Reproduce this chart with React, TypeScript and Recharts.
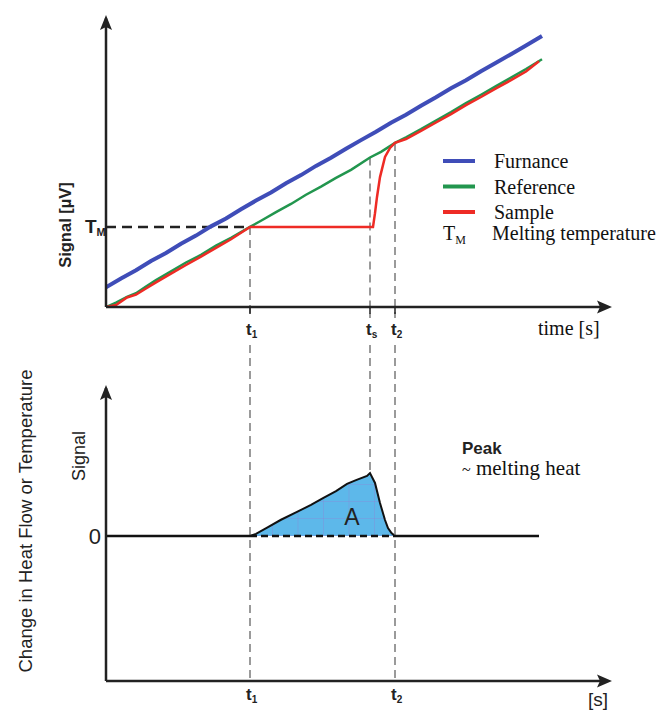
import React from 'react';
import { ComposedChart, Line, Area, XAxis, YAxis, ReferenceLine, ReferenceDot, Legend } from 'recharts';

// ---------- data (time units / signal units) ----------
const furnaceTime = [0, 3, 6, 9, 12, 15, 18, 21, 24, 27, 30, 33, 36, 39, 42, 45, 48, 51, 54, 57, 60, 63, 66, 69, 72, 75, 78, 81, 84, 87.2];
const furnaceSignal = [7.0, 10.2, 13.1, 16.4, 19.3, 22.6, 25.5, 28.8, 31.6, 34.9, 38.0, 40.9, 44.2, 47.1, 50.4, 53.3, 56.5, 59.6, 62.6, 65.8, 68.7, 71.9, 74.9, 78.1, 81.0, 84.2, 87.2, 90.3, 93.4, 96.8];

const referenceTime = [0, 2, 4.2, 6, 8, 10, 13, 16, 19, 22, 25, 28.8, 31, 34, 37, 40, 43, 46, 49, 52.8, 55, 57.8, 60, 63, 66, 69, 72, 75, 78, 81, 84, 87.2];
const referenceSignal = [0, 1.6, 3.6, 4.9, 7.3, 9.6, 12.7, 15.9, 18.6, 21.9, 24.7, 28.6, 30.8, 33.9, 36.8, 40.1, 43.0, 46.1, 49.0, 53.4, 55.4, 58.6, 60.6, 63.5, 66.6, 69.6, 72.8, 75.8, 78.9, 81.9, 85.0, 88.5];

const sampleTime = [0, 2, 4.2, 6, 8, 10, 13, 16, 19, 22, 25, 28.8, 40, 53.4, 53.8, 54.2, 54.8, 55.8, 56.8, 57.8, 60, 63, 66, 69, 72, 75, 78, 81, 84, 86.6];
const sampleSignal = [0, 0.7, 3.4, 4.4, 6.6, 8.8, 11.9, 15.0, 18.0, 21.1, 24.2, 28.6, 28.6, 28.6, 33.5, 39.3, 46.4, 53.6, 56.8, 58.6, 60.0, 62.9, 65.9, 68.9, 72.1, 75.0, 78.1, 81.0, 84.1, 87.8];

const peakTime = [28.8, 30, 32.4, 35, 38.2, 41, 43.4, 46, 48.2, 50, 52.2, 52.8, 53.8, 54.8, 55.8, 56.4, 57.1, 57.8];
const peakSignal = [0, 1.5, 6.2, 11.2, 16.6, 21.5, 26.2, 31.0, 35.9, 38.5, 41.4, 43.4, 36.6, 22.8, 11.0, 5.5, 2.0, 0];

const eventTimes = [28.8, 52.8, 57.8];
const eventSubscripts = ['1', 's', '2'];
const eventTopSignal = [28.6, 53.4, 58.6];
const bottomTickTimes = [28.8, 57.8];
const bottomTickSubscripts = ['1', '2'];
const meltingLevel = 28.6;
const baselineEnd = 86.6;
const areaLabelPos = { t: 49.2, v: 13 };

const legendNames = ['Furnance', 'Reference', 'Sample'];
const legendColors = ['#3f4db8', '#22964e', '#ee2b25'];

const zip = (xs: number[], ys: number[]) => xs.map((t, i) => ({ t, v: ys[i] }));
const furnaceData = zip(furnaceTime, furnaceSignal);
const referenceData = zip(referenceTime, referenceSignal);
const sampleData = zip(sampleTime, sampleSignal);
const peakData = zip(peakTime, peakSignal);

const SANS = '"Liberation Sans", Arial, sans-serif';
const SERIF = '"Liberation Serif", "Times New Roman", serif';
const AXIS = '#222';
const DASH = '#7a7a7a';

const ArrowUp = (p: any) => (
  <polygon points={`${p.cx},${p.cy} ${p.cx - 6},${p.cy + 15} ${p.cx},${p.cy + 12} ${p.cx + 6},${p.cy + 15}`} fill={AXIS} />
);
const ArrowRight = (p: any) => (
  <polygon points={`${p.cx},${p.cy} ${p.cx - 15},${p.cy - 6.5} ${p.cx - 12},${p.cy} ${p.cx - 15},${p.cy + 6.5}`} fill={AXIS} />
);
const AreaLetter = (p: any) => (
  <text x={p.cx} y={p.cy + 8} textAnchor="middle" fontFamily={SANS} fontSize={23} fill="#222">A</text>
);

const TopTick = (p: any) => {
  const i = eventTimes.indexOf(p.payload.value);
  return (
    <g>
      <line x1={p.x} y1={p.y} x2={p.x} y2={p.y + 7} stroke={AXIS} strokeWidth={1.5} />
      <text x={p.x - 4} y={p.y + 28} fontFamily={SANS} fontWeight={700} fontSize={17} fill="#222">
        t<tspan fontSize={10} dy={3}>{eventSubscripts[i]}</tspan>
      </text>
    </g>
  );
};

const BottomTick = (p: any) => {
  const i = bottomTickTimes.indexOf(p.payload.value);
  return (
    <text x={p.x - 4} y={p.y + 19} fontFamily={SANS} fontWeight={700} fontSize={17} fill="#222">
      t<tspan fontSize={10} dy={3}>{bottomTickSubscripts[i]}</tspan>
    </text>
  );
};

const TmTick = (p: any) => (
  <text x={p.x - 21} y={p.y + 6} fontFamily={SANS} fontWeight={700} fontSize={19} fill="#222">
    T<tspan fontSize={11} dy={3}>M</tspan>
  </text>
);

const ZeroTick = (p: any) => (
  <text x={p.x - 5} y={p.y + 8} textAnchor="end" fontFamily={SANS} fontSize={22} fill="#222">0</text>
);

const LegendBox = () => (
  <svg width={232} height={104}>
    {legendNames.map((n, i) => (
      <g key={n}>
        <line x1={3} x2={35} y1={13 + i * 25.5} y2={13 + i * 25.5} stroke={legendColors[i]} strokeWidth={4} />
        <text x={54} y={20 + i * 25.5} fontFamily={SERIF} fontSize={20} fill="#111">{n}</text>
      </g>
    ))}
    <text x={3} y={92} fontFamily={SERIF} fontSize={20} fill="#111">
      T<tspan fontSize={12} dy={4}>M</tspan>
    </text>
    <text x={52} y={92} fontFamily={SERIF} fontSize={20} fill="#111">Melting temperature</text>
  </svg>
);

export default function App() {
  return (
    <div style={{ position: 'absolute', left: 0, top: 0, width: 670, height: 711, background: '#fff' }}>
      <div style={{ position: 'absolute', left: 0, top: 0 }}>
        <ComposedChart width={670} height={340} margin={{ top: 27, right: 64, bottom: 3, left: 46 }}>
          <XAxis type="number" dataKey="t" domain={[0, 100]} allowDataOverflow ticks={eventTimes} tick={TopTick}
            axisLine={false} tickLine={false} tickSize={0} tickMargin={0} height={30} interval={0} />
          <YAxis type="number" domain={[0, 100]} allowDataOverflow ticks={[meltingLevel]} tick={TmTick}
            axisLine={false} tickLine={false} tickSize={0} tickMargin={0} width={60} />
          <Legend layout="horizontal" verticalAlign="middle" align="center" content={LegendBox}
            wrapperStyle={{ position: 'absolute', left: 440, top: 148, width: 232, height: 104 }} />

          {eventTimes.map((t, i) => (
            <ReferenceLine key={'v' + i} ifOverflow="visible" segment={[{ x: t, y: eventTopSignal[i] }, { x: t, y: -3.9 }]}
              stroke={DASH} strokeWidth={1.5} strokeDasharray="8 5" />
          ))}
          <ReferenceLine ifOverflow="visible" segment={[{ x: 0, y: meltingLevel }, { x: eventTimes[0], y: meltingLevel }]}
            stroke="#222" strokeWidth={2.5} strokeDasharray="10 6" />

          <Line data={furnaceData} dataKey="v" type="linear" stroke={legendColors[0]} strokeWidth={4} dot={false} isAnimationActive={false} />
          <Line data={referenceData} dataKey="v" type="linear" stroke={legendColors[1]} strokeWidth={2.5} dot={false} isAnimationActive={false} />
          <Line data={sampleData} dataKey="v" type="linear" stroke={legendColors[2]} strokeWidth={2.5} dot={false} isAnimationActive={false} />

          <ReferenceLine ifOverflow="visible" segment={[{ x: 0, y: 0 }, { x: 0, y: 103 }]} stroke={AXIS} strokeWidth={2.5} />
          <ReferenceLine ifOverflow="visible" segment={[{ x: 0, y: 0 }, { x: 100, y: 0 }]} stroke={AXIS} strokeWidth={2.5} />
          <ReferenceDot ifOverflow="visible" x={0} y={104.3} r={1} shape={ArrowUp} />
          <ReferenceDot ifOverflow="visible" x={101.2} y={0} r={1} shape={ArrowRight} />

          <text x={65} y={225} transform="rotate(-90 65 225)" textAnchor="middle" dominantBaseline="central"
            fontFamily={SANS} fontWeight={700} fontSize={16.5} fill="#222">Signal [µV]</text>
          <text x={538} y={335} fontFamily={SERIF} fontSize={20} fill="#111">time [s]</text>
        </ComposedChart>
      </div>

      <div style={{ position: 'absolute', left: 0, top: 340 }}>
        <ComposedChart width={670} height={371} margin={{ top: 51, right: 64, bottom: 0, left: 46 }}>
          <defs>
            <pattern id="peakGrid" patternUnits="userSpaceOnUse" x={272} y={484} width={25.5} height={17}>
              <rect x={0} y={0} width={25.5} height={17} fill="#5db8ea" />
              <line x1={0} y1={0} x2={0} y2={17} stroke="#8c82d6" strokeWidth={1} opacity={0.7} />
              <line x1={0} y1={0} x2={25.5} y2={0} stroke="#8c82d6" strokeWidth={1} opacity={0.7} />
            </pattern>
          </defs>
          <XAxis type="number" dataKey="t" domain={[0, 100]} allowDataOverflow ticks={bottomTickTimes} tick={BottomTick}
            axisLine={false} tickLine={false} tickSize={0} tickMargin={0} height={30} interval={0} />
          <YAxis type="number" domain={[-100, 100]} allowDataOverflow ticks={[0]} tick={ZeroTick}
            axisLine={false} tickLine={false} tickSize={0} tickMargin={0} width={60} />

          <ReferenceLine ifOverflow="visible" segment={[{ x: eventTimes[0], y: 131.7 }, { x: eventTimes[0], y: -100 }]}
            stroke={DASH} strokeWidth={1.5} strokeDasharray="8 5" />
          <ReferenceLine ifOverflow="visible" segment={[{ x: eventTimes[1], y: 131.7 }, { x: eventTimes[1], y: peakSignal[11] }]}
            stroke={DASH} strokeWidth={1.5} strokeDasharray="8 5" />
          <ReferenceLine ifOverflow="visible" segment={[{ x: eventTimes[2], y: 131.7 }, { x: eventTimes[2], y: -100 }]}
            stroke={DASH} strokeWidth={1.5} strokeDasharray="8 5" />

          <Area data={peakData} dataKey="v" type="linear" baseValue={0} stroke="#111" strokeWidth={2}
            fill="url(#peakGrid)" fillOpacity={1} dot={false} activeDot={false} isAnimationActive={false} />

          <ReferenceLine ifOverflow="visible" segment={[{ x: 0, y: 0 }, { x: eventTimes[0], y: 0 }]} stroke="#111" strokeWidth={2.5} />
          <ReferenceLine ifOverflow="visible" segment={[{ x: eventTimes[0], y: 0 }, { x: eventTimes[2], y: 0 }]} stroke="#111" strokeWidth={2.5} strokeDasharray="7 4" />
          <ReferenceLine ifOverflow="visible" segment={[{ x: eventTimes[2], y: 0 }, { x: baselineEnd, y: 0 }]} stroke="#111" strokeWidth={2.5} />

          <ReferenceLine ifOverflow="visible" segment={[{ x: 0, y: -100 }, { x: 0, y: 102 }]} stroke={AXIS} strokeWidth={2.5} />
          <ReferenceLine ifOverflow="visible" segment={[{ x: 0, y: -100 }, { x: 100, y: -100 }]} stroke={AXIS} strokeWidth={2.5} />
          <ReferenceDot ifOverflow="visible" x={0} y={104.1} r={1} shape={ArrowUp} />
          <ReferenceDot ifOverflow="visible" x={101.2} y={-100} r={1} shape={ArrowRight} />
          <ReferenceDot ifOverflow="visible" x={areaLabelPos.t} y={areaLabelPos.v} r={1} shape={AreaLetter} />

          <text x={462} y={114} fontFamily={SANS} fontWeight={700} fontSize={17} fill="#222">Peak</text>
          <text x={462} y={135} fontFamily={SERIF} fontSize={21} fill="#111">
            <tspan fontSize={16}>~</tspan> melting heat
          </text>
          <text x={79} y={116} transform="rotate(-90 79 116)" textAnchor="middle" dominantBaseline="central"
            fontFamily={SANS} fontSize={18} fill="#222">Signal</text>
          <text x={25} y={181} transform="rotate(-90 25 181)" textAnchor="middle" dominantBaseline="central"
            fontFamily={SANS} fontSize={18.5} fill="#222">Change in Heat Flow or Temperature</text>
          <text x={588} y={366} fontFamily={SANS} fontSize={19} fill="#222">[s]</text>
        </ComposedChart>
      </div>
    </div>
  );
}
